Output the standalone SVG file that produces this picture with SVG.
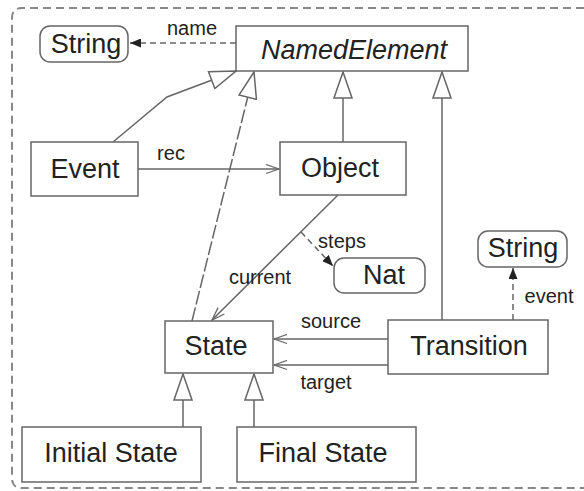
<svg xmlns="http://www.w3.org/2000/svg" width="584" height="491" viewBox="0 0 584 491">
<style>
.box{fill:#fff;stroke:#666;stroke-width:1.5}
.t{font-family:"Liberation Sans",Arial,sans-serif;font-size:27px;fill:#222;text-anchor:middle}
.l{font-family:"Liberation Sans",Arial,sans-serif;font-size:20px;fill:#222;text-anchor:middle}
.ln{fill:none;stroke:#666;stroke-width:1.5}
.dash{stroke-dasharray:6 4}
.gen{marker-end:url(#gen)}
.open{marker-end:url(#open)}
.fill{marker-end:url(#filled)}
</style>
<defs>
<marker id="gen" viewBox="-1 -1 28 20" refX="26" refY="9" markerWidth="28" markerHeight="20" markerUnits="userSpaceOnUse" orient="auto">
<path d="M26,9 L0,0 L0,18 Z" fill="#fff" stroke="#666" stroke-width="1.5"/>
</marker>
<marker id="open" viewBox="-1 -1 15 11" refX="13" refY="4.5" markerWidth="15" markerHeight="11" markerUnits="userSpaceOnUse" orient="auto">
<path d="M0,0 L13,4.5 L0,9" fill="none" stroke="#666" stroke-width="1.3"/>
</marker>
<marker id="filled" viewBox="0 0 11 9" refX="11" refY="4.5" markerWidth="11" markerHeight="9" markerUnits="userSpaceOnUse" orient="auto">
<path d="M0,0 L11,4.5 L0,9 Z" fill="#222"/>
</marker>
</defs>
<rect width="584" height="491" fill="#fff"/>
<path d="M584,8 H22 Q12,8 12,18 V478 Q12,488 22,488 H584" fill="none" stroke="#888" stroke-width="2" stroke-dasharray="8 5"/>

<g id="connectors">
<line class="ln dash fill" x1="236" y1="43" x2="130" y2="43"/>
<line class="ln open" x1="138" y1="169" x2="279" y2="169"/>
<polyline class="ln gen" points="113,142 167,97 236,71"/>
<line class="ln gen" x1="192" y1="321" x2="254" y2="72" stroke-dasharray="14 3"/>
<line class="ln gen" x1="343" y1="142" x2="343" y2="72"/>
<line class="ln gen" x1="442" y1="320" x2="442" y2="72"/>
<line class="ln open" x1="338" y1="195" x2="212" y2="320"/>
<line class="ln dash fill" x1="301" y1="232" x2="333" y2="266"/>
<line class="ln dash fill" x1="513" y1="320" x2="513" y2="268"/>
<line class="ln open" x1="388" y1="339" x2="274" y2="339"/>
<line class="ln open" x1="388" y1="365" x2="274" y2="365"/>
<line class="ln gen" x1="183" y1="427" x2="183" y2="374"/>
<line class="ln gen" x1="254" y1="427" x2="254" y2="374"/>
<text class="l" x="192" y="35">name</text>
<text class="l" x="171" y="160">rec</text>
<text class="l" x="342" y="248">steps</text>
<text class="l" x="260" y="284">current</text>
<text class="l" x="549" y="303">event</text>
<text class="l" x="331" y="328">source</text>
<text class="l" x="326" y="389">target</text>
</g>

<g id="NamedElement">
<rect class="box" x="236" y="26" width="232" height="45"/>
<text class="t" x="354" y="59" font-style="italic">NamedElement</text>
</g>
<g id="StringName">
<rect class="box" x="40" y="26" width="88" height="36" rx="10"/>
<text class="t" x="86" y="53">String</text>
</g>
<g id="Event">
<rect class="box" x="31" y="142" width="107" height="54"/>
<text class="t" x="85" y="178">Event</text>
</g>
<g id="Object">
<rect class="box" x="280" y="142" width="126" height="53"/>
<text class="t" x="340" y="177">Object</text>
</g>
<g id="Nat">
<rect class="box" x="334" y="258" width="91" height="35" rx="10"/>
<text class="t" x="384" y="284">Nat</text>
</g>
<g id="StringEvent">
<rect class="box" x="478" y="231" width="89" height="36" rx="10"/>
<text class="t" x="523" y="257">String</text>
</g>
<g id="State">
<rect class="box" x="165" y="321" width="108" height="52"/>
<text class="t" x="216" y="355">State</text>
</g>
<g id="Transition">
<rect class="box" x="388" y="320" width="160" height="54"/>
<text class="t" x="469" y="355">Transition</text>
</g>
<g id="InitialState">
<rect class="box" x="22" y="427" width="179" height="55"/>
<text class="t" x="111" y="462">Initial State</text>
</g>
<g id="FinalState">
<rect class="box" x="237" y="427" width="179" height="55"/>
<text class="t" x="323" y="462">Final State</text>
</g>
</svg>
